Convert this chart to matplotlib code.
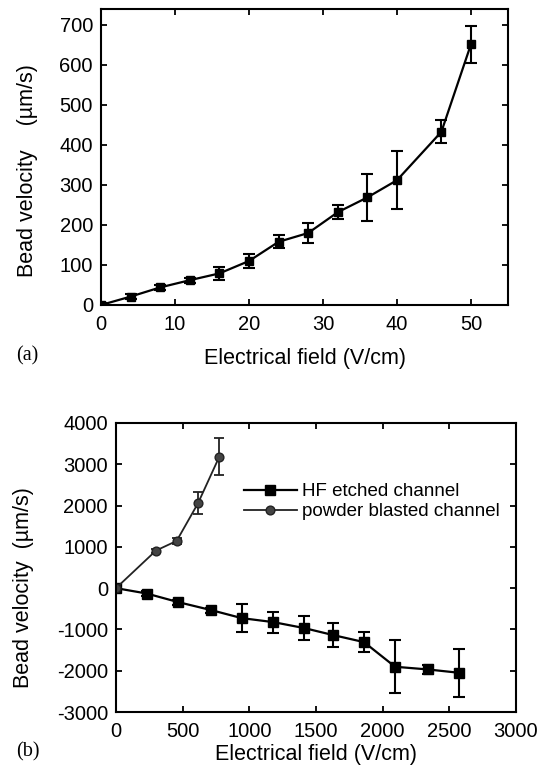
import matplotlib
matplotlib.use("Agg")
import matplotlib.pyplot as plt

# ---- data panel (a)
a_field = [0, 4, 8, 12, 16, 20, 24, 28, 32, 36, 40, 46, 50]
a_vel = [0, 21, 44, 62, 79, 110, 158, 180, 232, 269, 312, 433, 652]
a_err = [4, 7, 7, 6, 17, 17, 16, 25, 17, 59, 73, 29, 46]

# ---- data panel (b)
hf_field = [0, 230, 467, 715, 943, 1180, 1413, 1630, 1860, 2093, 2338, 2570]
hf_vel = [0, -130, -339, -533, -726, -823, -968, -1138, -1307, -1904, -1969, -2049]
hf_err = [30, 60, 60, 60, 343, 257, 282, 282, 250, 640, 110, 577]

pb_field = [0, 300, 455, 615, 775]
pb_vel = [0, 910, 1144, 2056, 3185]
pb_err = [30, 50, 70, 265, 450]

a_xticks = [0, 10, 20, 30, 40, 50]
a_yticks = [0, 100, 200, 300, 400, 500, 600, 700]
b_xticks = [0, 500, 1000, 1500, 2000, 2500, 3000]
b_yticks = [-3000, -2000, -1000, 0, 1000, 2000, 3000, 4000]

plt.rcParams['font.family'] = ['Liberation Sans', 'DejaVu Sans']
plt.rcParams['axes.unicode_minus'] = False
W, H = 546, 774
fig = plt.figure(figsize=(W / 100, H / 100), dpi=100)

def box(l, t, r, b):
    return [l / W, 1 - b / H, (r - l) / W, (b - t) / H]

def style(ax):
    for s in ax.spines.values():
        s.set_linewidth(1.5)
    ax.tick_params(direction='in', length=4.5, width=1.3, labelsize=14.5,
                   top=True, right=True, pad=5.8)
    ax.tick_params(axis='x', pad=7.5)

# panel (a)
ax1 = fig.add_axes(box(101, 9, 508, 305))
ax1.errorbar(a_field, a_vel, yerr=a_err, color='black', lw=1.6, marker='s',
             ms=6.3, capsize=4.3, elinewidth=1.5, capthick=1.5)
ax1.set_xlim(0, 55)
ax1.set_ylim(0, 740)
ax1.set_xticks(a_xticks)
ax1.set_yticks(a_yticks)
style(ax1)
ax1.set_xlabel('Electrical field (V/cm)', fontsize=15.5)
ax1.set_ylabel('Bead velocity    (µm/s)', fontsize=15.5)
ax1.xaxis.set_label_coords(0.5, -0.145)
ax1.yaxis.set_label_coords(-0.155, 0.453)
fig.text(16 / W, 1 - 356 / H, '(a)', family='Liberation Serif', fontsize=14.5,
         va='center', ha='left')

# panel (b)
ax2 = fig.add_axes(box(116, 423, 516, 712))
ax2.errorbar(hf_field, hf_vel, yerr=hf_err, color='black', lw=1.6, marker='s',
             ms=6.8, capsize=4.3, elinewidth=1.5, capthick=1.5,
             label='HF etched channel')
ax2.errorbar(pb_field, pb_vel, yerr=pb_err, color='#222222', lw=1.3, marker='o',
             ms=6.3, mfc='#444444', mec='#222222', capsize=3.5, elinewidth=1.3,
             capthick=1.3, label='powder blasted channel')
ax2.set_xlim(0, 3000)
ax2.set_ylim(-3000, 4000)
ax2.set_xticks(b_xticks)
ax2.set_yticks(b_yticks)
style(ax2)
ax2.set_xlabel('Electrical field (V/cm)', fontsize=15.5)
ax2.set_ylabel('Bead velocity  (µm/s)', fontsize=15.5)
ax2.xaxis.set_label_coords(0.5, -0.111)
ax2.yaxis.set_label_coords(-0.204, 0.43)
h, l = ax2.get_legend_handles_labels()
h = [hh[0] for hh in h]
leg = ax2.legend(h, l, loc='upper left', bbox_to_anchor=((244 - 116) / 400, (712 - 483) / 289),
                 frameon=False, fontsize=13.5, handlelength=2.8, handletextpad=0.3,
                 borderaxespad=0, borderpad=0, labelspacing=0.15)
fig.text(16 / W, 1 - 752 / H, '(b)', family='Liberation Serif', fontsize=14.5,
         va='center', ha='left')

fig.savefig('out.png', dpi=100)
